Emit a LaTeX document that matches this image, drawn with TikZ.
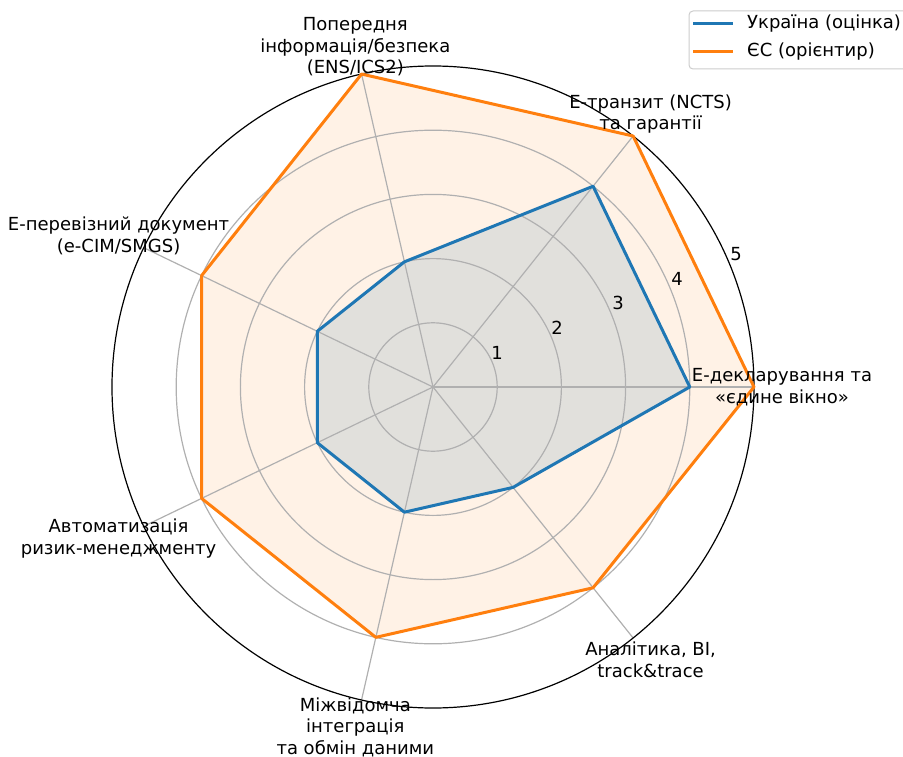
\documentclass[tikz,border=0pt]{standalone}
\usepackage{fontspec}
\setmainfont{DejaVu Sans}
\usepackage{xcolor}
\usetikzlibrary{positioning}
\definecolor{uablue}{HTML}{1F77B4}
\definecolor{euorange}{HTML}{FF7F0E}
\definecolor{gridgray}{HTML}{B0B0B0}
\definecolor{legendgray}{HTML}{CCCCCC}

\begin{document}
\begin{tikzpicture}[x=1pt, y=1pt,
  font=\fontsize{18}{21.5}\selectfont,
  gridline/.style={draw=gridgray, line width=1.2pt},
  series/.style={line width=3pt, line join=round},
  axlabel/.style={align=center, inner sep=0pt},
  ticklabel/.style={inner sep=0pt},
]
  \useasboundingbox (-433,-369) rectangle (470,387);
  \coordinate (c) at (0,0);

  % Filled areas
  \fill[uablue, fill opacity=0.15] (0:256.8) -- (51.43:256.8) -- (102.86:128.4) -- (154.29:128.4)
       -- (205.71:128.4) -- (257.14:128.4) -- (308.57:128.4) -- cycle;
  \fill[euorange, fill opacity=0.1] (0:321) -- (51.43:321) -- (102.86:321) -- (154.29:256.8)
       -- (205.71:256.8) -- (257.14:256.8) -- (308.57:256.8) -- cycle;

  % Grid
  \foreach \r in {64.2,128.4,192.6,256.8}
    \draw[gridline] (c) circle (\r pt);
  \foreach \a in {0,51.43,102.86,154.29,205.71,257.14,308.57}
    \draw[gridline] (c) -- (\a:321);
  \draw[black, line width=1.2pt] (c) circle (321pt);

  % Series
  \draw[series, uablue] (0:256.8) -- (51.43:256.8) -- (102.86:128.4) -- (154.29:128.4)
       -- (205.71:128.4) -- (257.14:128.4) -- (308.57:128.4) -- cycle;
  \draw[series, euorange] (0:321) -- (51.43:321) -- (102.86:321) -- (154.29:256.8)
       -- (205.71:256.8) -- (257.14:256.8) -- (308.57:256.8) -- cycle;

  % Radial ticks
  \node[ticklabel] (t1) at (64,34)  {1};
  \node[ticklabel] (t2) at (124,59) {2};
  \node[ticklabel] (t3) at (185,84) {3};
  \node[ticklabel] (t4) at (244,108) {4};
  \node[ticklabel] (t5) at (303,133) {5};

  % Axis labels
  \node[axlabel] (edecl)  at (0:349)      {E-декларування та\\«єдине вікно»};
  \node[axlabel] (etrans) at (51.43:349)  {E-транзит (NCTS)\\та гарантії};
  \node[axlabel] (preinf) at (102.86:349) {Попередня\\інформація/безпека\\(ENS/ICS2)};
  \node[axlabel] (ecarr)  at (154.29:349) {E-перевізний документ\\(e-CIM/SMGS)};
  \node[axlabel] (risk)   at (205.71:349) {Автоматизація\\ризик-менеджменту};
  \node[axlabel] (integr) at (257.14:349) {Міжвідомча\\інтеграція\\та обмін даними};
  \node[axlabel] (analyt) at (308.57:349) {Аналітика, BI,\\track\&trace};

  % Legend
  \draw[legendgray, fill=white, fill opacity=0.8, rounded corners=4pt, line width=1pt]
       (256,376) rectangle (480,318);
  \node[anchor=west, inner sep=0pt] (legua) at (314,363) {Україна (оцінка)};
  \node[anchor=west, inner sep=0pt] (legeu) at (314,335) {ЄС (орієнтир)};
  \draw[series, uablue]   (260,363) -- (300,363);
  \draw[series, euorange] (260,335) -- (300,335);
\end{tikzpicture}
\end{document}
